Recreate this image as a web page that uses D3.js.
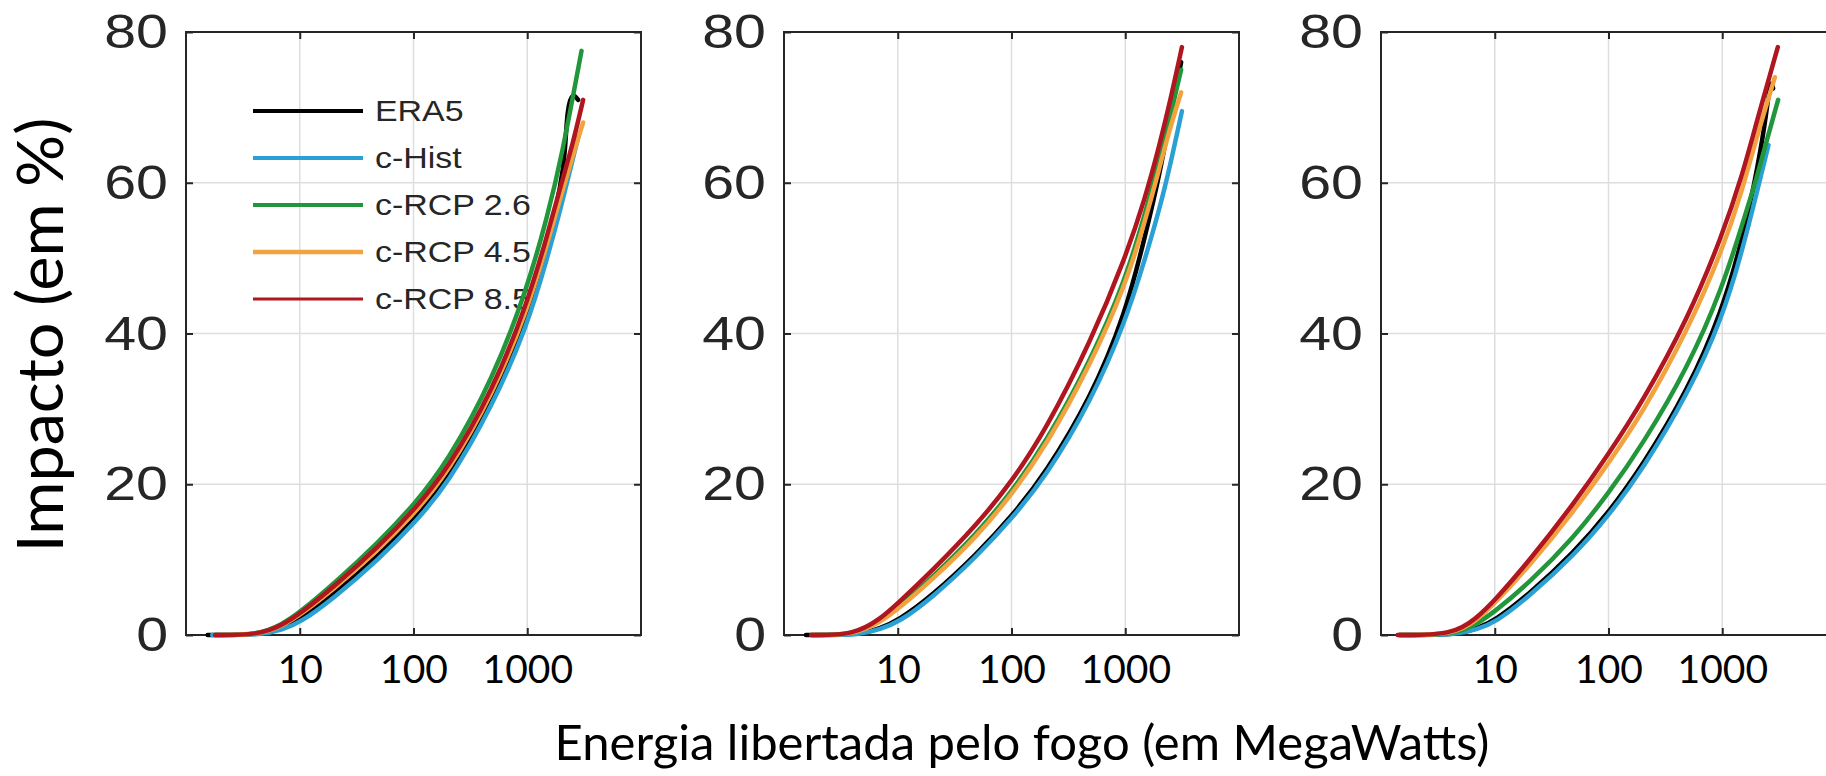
<!DOCTYPE html>
<html>
<head>
<meta charset="utf-8">
<script src="https://cdn.jsdelivr.net/npm/d3@7"></script>
<style>
    body { margin: 0; background: #fff; }
    svg { display: block; }
</style>
</head>
<body>
<svg id="chart"></svg>
<script>
// data: [energia MW, impacto %]
var seriesNames = ['ERA5', 'c-Hist', 'c-RCP 2.6', 'c-RCP 4.5', 'c-RCP 8.5'];
var xTicks = [10, 100, 1000];
var yTicks = [0, 20, 40, 60, 80];

// painel 1
var p1Era5 = [[1.55, 0], [4.6, 0], [7, 0.9], [10, 2.0], [20, 5.4], [50, 10.6], [100, 15.2], [200, 20.5], [500, 31], [1000, 42], [1500, 51.5], [2000, 60], [2150, 64], [2250, 70], [2500, 72], [2800, 71]];
var p1Hist = [[1.7, 0], [4.8, 0], [7, 0.7], [10, 1.6], [20, 4.9], [50, 10.1], [100, 14.7], [200, 20], [500, 30.5], [1000, 41], [1500, 50], [2000, 57], [2500, 63], [2800, 66]];
var p1Rcp26 = [[1.8, 0], [4.3, 0], [7, 1.4], [10, 3], [20, 6.8], [50, 12.4], [100, 17.2], [200, 23], [500, 34], [1000, 46], [1500, 55.5], [2000, 63.3], [3000, 77.5]];
var p1Rcp45 = [[1.8, 0], [4.4, 0], [7, 1.2], [10, 2.6], [20, 6.1], [50, 11.4], [100, 16], [200, 21.5], [500, 32], [1000, 43], [1500, 52], [2000, 58.5], [2500, 63.5], [3100, 68]];
var p1Rcp85 = [[1.8, 0], [4.3, 0], [7, 1.3], [10, 2.8], [20, 6.4], [50, 11.8], [100, 16.5], [200, 22], [500, 32.5], [1000, 44], [1500, 53], [2000, 60], [2500, 65], [3100, 71]];

// painel 2
var p2Era5 = [[1.56, 0], [4.6, 0], [7, 0.9], [10, 1.9], [20, 5.2], [50, 10.8], [100, 15.7], [200, 21.5], [500, 31.5], [1000, 42.5], [1500, 53], [2000, 61], [2500, 69], [3100, 76]];
var p2Hist = [[1.9, 0], [4.8, 0], [7, 0.8], [10, 1.6], [20, 4.9], [50, 10.5], [100, 15.4], [200, 21], [500, 31], [1000, 41.5], [1500, 50], [2000, 56.5], [2500, 62.5], [3150, 69.5]];
var p2Rcp26 = [[1.75, 0], [4.2, 0], [7, 1.8], [10, 3.6], [20, 7.6], [50, 13.5], [100, 19], [200, 25.5], [500, 36.5], [1000, 47], [1500, 56], [2000, 63], [2500, 69], [3100, 75]];
var p2Rcp45 = [[1.75, 0], [4.2, 0], [7, 1.7], [10, 3.4], [20, 7.3], [50, 13.1], [100, 18.6], [200, 25], [500, 36], [1000, 46.3], [1500, 55], [2000, 62], [2500, 67.5], [3100, 72]];
var p2Rcp85 = [[1.73, 0], [4.1, 0], [7, 2.1], [10, 4.2], [20, 8.5], [50, 14.7], [100, 20.3], [200, 27.2], [500, 39], [1000, 50], [1500, 58], [2000, 65], [2500, 71], [3150, 78]];

// painel 3
var p3Era5 = [[1.45, 0], [4.8, 0], [7, 0.9], [10, 1.9], [20, 5.4], [50, 11], [100, 16.2], [200, 22.5], [500, 32.5], [1000, 43], [1500, 52.5], [1900, 59.5], [2400, 68], [2650, 74], [2800, 72.5]];
var p3Hist = [[1.5, 0], [4.8, 0], [7, 0.8], [10, 1.6], [20, 5.1], [50, 10.6], [100, 15.8], [200, 22], [500, 32], [1000, 42], [1500, 51], [2000, 58.5], [2550, 65]];
var p3Rcp26 = [[1.45, 0], [4.5, 0], [7, 1.5], [10, 3.1], [20, 6.9], [50, 13], [100, 18.8], [200, 25.3], [500, 35.5], [1000, 46], [1500, 54.5], [2000, 60.5], [2500, 66], [3100, 71]];
var p3Rcp45 = [[1.42, 0], [4.4, 0], [7, 2.0], [10, 4.2], [20, 9.1], [50, 16.5], [100, 22.8], [200, 29.5], [500, 40.5], [1000, 51], [1500, 59], [2000, 66], [2900, 74]];
var p3Rcp85 = [[1.4, 0], [4.3, 0], [7, 2.3], [10, 4.6], [20, 9.8], [50, 17.5], [100, 24], [200, 31], [500, 42], [1000, 53], [1500, 61], [2000, 68], [3080, 78]];

var panels = [
    [p1Era5, p1Hist, p1Rcp26, p1Rcp45, p1Rcp85],
    [p2Era5, p2Hist, p2Rcp26, p2Rcp45, p2Rcp85],
    [p3Era5, p3Hist, p3Rcp26, p3Rcp45, p3Rcp85]
];

var colors = ['#000000', '#2aa0d4', '#21963b', '#f2a23e', '#b0161f'],
    legendWidths = [4, 4, 4, 4.5, 3];

var width = 1826,
    height = 776,
    panelLeft = [186, 784, 1381],
    panelWidth = 455,
    plotTop = 32,
    plotBottom = 635,
    stretch = 1.17, // a figura original esta esticada na horizontal
    axisColor = '#262626',
    gridColor = '#dedede';

var svg = d3.select('#chart')
    .attr('width', width)
    .attr('height', height);

svg.append('rect')
    .attr('width', width)
    .attr('height', height)
    .attr('fill', '#fff');

var y = d3.scaleLinear().domain([0, 80]).range([plotBottom, plotTop]);

function styleAxis(g) {
    g.select('.domain').remove();
    g.selectAll('.tick line')
        .attr('stroke', axisColor)
        .attr('stroke-width', 2);
}

panels.forEach(function (series, i) {
    var left = panelLeft[i],
        right = left + panelWidth,
        x = d3.scaleLog().domain([1, 10000]).range([left, right]),
        g = svg.append('g');

    // grelha
    g.selectAll('line.vgrid')
        .data(xTicks)
        .enter().append('line')
        .attr('x1', function (d) { return x(d); })
        .attr('x2', function (d) { return x(d); })
        .attr('y1', plotTop)
        .attr('y2', plotBottom)
        .attr('stroke', gridColor)
        .attr('stroke-width', 1.5);

    g.selectAll('line.hgrid')
        .data(yTicks.slice(1, -1))
        .enter().append('line')
        .attr('x1', left)
        .attr('x2', right)
        .attr('y1', function (d) { return y(d); })
        .attr('y2', function (d) { return y(d); })
        .attr('stroke', gridColor)
        .attr('stroke-width', 1.5);

    // caixa
    g.append('rect')
        .attr('x', left)
        .attr('y', plotTop)
        .attr('width', panelWidth)
        .attr('height', plotBottom - plotTop)
        .attr('fill', 'none')
        .attr('stroke', axisColor)
        .attr('stroke-width', 2);

    var bottomAxis = g.append('g')
        .attr('transform', 'translate(0,' + plotBottom + ')')
        .call(d3.axisBottom(x).tickValues(xTicks).tickSize(-7).tickSizeOuter(0).tickFormat(d3.format('d')));
    styleAxis(bottomAxis);
    bottomAxis.selectAll('text')
        .attr('y', 48)
        .attr('dy', null)
        .attr('fill', '#000')
        .style('font-family', 'Lato, sans-serif')
        .style('font-size', '39px');

    var topAxis = g.append('g')
        .attr('transform', 'translate(0,' + plotTop + ')')
        .call(d3.axisTop(x).tickValues(xTicks).tickSize(-7).tickSizeOuter(0).tickFormat(''));
    styleAxis(topAxis);

    var leftAxis = g.append('g')
        .attr('transform', 'translate(' + left + ',0)')
        .call(d3.axisLeft(y).tickValues(yTicks).tickSize(-7).tickSizeOuter(0));
    styleAxis(leftAxis);
    leftAxis.selectAll('text')
        .attr('x', -18 / stretch)
        .attr('transform', 'scale(' + stretch + ',1)')
        .attr('fill', axisColor)
        .style('font-family', '"Liberation Sans", Arial, sans-serif')
        .style('font-size', '49px');

    var rightAxis = g.append('g')
        .attr('transform', 'translate(' + right + ',0)')
        .call(d3.axisRight(y).tickValues(yTicks).tickSize(-7).tickSizeOuter(0).tickFormat(''));
    styleAxis(rightAxis);

    // legenda (so no primeiro painel, por baixo das curvas)
    if (i === 0) {
        var legend = g.selectAll('g.legend')
            .data(seriesNames)
            .enter().append('g')
            .attr('transform', function (d, j) { return 'translate(253,' + (111 + j * 47) + ')'; });

        legend.append('line')
            .attr('x1', 0)
            .attr('x2', 110)
            .attr('stroke', function (d, j) { return colors[j]; })
            .attr('stroke-width', function (d, j) { return legendWidths[j]; });

        legend.append('text')
            .attr('x', 122 / stretch)
            .attr('dy', '0.36em')
            .attr('transform', 'scale(' + stretch + ',1)')
            .attr('fill', axisColor)
            .style('font-family', '"Liberation Sans", Arial, sans-serif')
            .style('font-size', '29px')
            .text(function (d) { return d; });
    }

    var line = d3.line()
        .x(function (d) { return x(d[0]); })
        .y(function (d) { return y(d[1]); })
        .curve(d3.curveBasis);

    g.selectAll('path.series')
        .data(series)
        .enter().append('path')
        .attr('class', 'series')
        .attr('d', line)
        .attr('fill', 'none')
        .attr('stroke', function (d, j) { return colors[j]; })
        .attr('stroke-width', 4.5)
        .attr('stroke-linejoin', 'round')
        .attr('stroke-linecap', 'round');
});

function fitText(sel, target) {
    sel.style('font-size', '100px');
    var w = sel.node().getComputedTextLength();
    sel.style('font-size', (100 * target / w) + 'px');
}

var xTitle = svg.append('text')
    .attr('x', 1022)
    .attr('y', 760)
    .attr('text-anchor', 'middle')
    .attr('fill', '#000')
    .style('font-family', 'Lato, sans-serif')
    .text('Energia libertada pelo fogo (em MegaWatts)');
fitText(xTitle, 935);

var yTitle = svg.append('text')
    .attr('transform', 'translate(63,335) rotate(-90)')
    .attr('text-anchor', 'middle')
    .attr('fill', '#000')
    .style('font-family', 'Lato, sans-serif')
    .text('Impacto (em %)');
fitText(yTitle, 435);
</script>
</body>
</html>
